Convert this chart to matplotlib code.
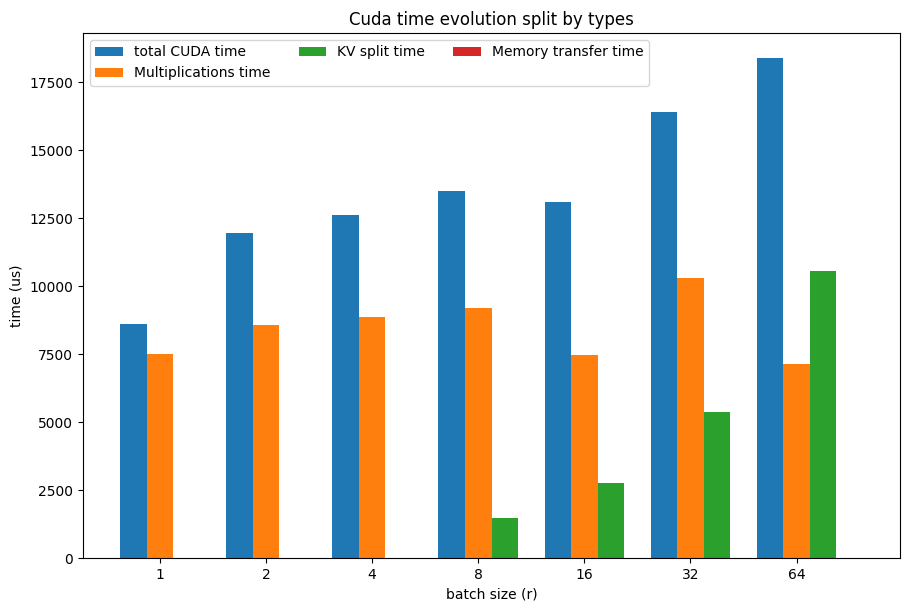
import matplotlib
matplotlib.use("Agg")
import matplotlib.pyplot as plt
import numpy as np

batch_sizes = ["1", "2", "4", "8", "16", "32", "64"]
total_cuda = [8620, 11960, 12620, 13500, 13100, 16400, 18385]
multiplications = [7485, 8585, 8845, 9210, 7450, 10310, 7120]
kv_split = [0, 0, 0, 1470, 2750, 5360, 10570]
memory_transfer = [0, 0, 0, 0, 0, 0, 0]

series = [
    ("total CUDA time", total_cuda),
    ("Multiplications time", multiplications),
    ("KV split time", kv_split),
    ("Memory transfer time", memory_transfer),
]

fig = plt.figure(figsize=(9.11, 6.11), dpi=100)
ax = fig.add_subplot(1, 1, 1)
fig.subplots_adjust(left=0.0911, right=0.988, bottom=0.0867, top=0.946)

x = np.arange(len(batch_sizes))
width = 0.25
for i, (label, values) in enumerate(series):
    ax.bar(x + (i - 1) * width, values, width, label=label)

ax.set_xticks(x)
ax.set_xticklabels(batch_sizes)
ax.set_xlabel("batch size (r)")
ax.set_ylabel("time (us)")
ax.set_title("Cuda time evolution split by types")
ax.legend(loc="upper left", ncol=3)

fig.savefig("out.png", dpi=100)
